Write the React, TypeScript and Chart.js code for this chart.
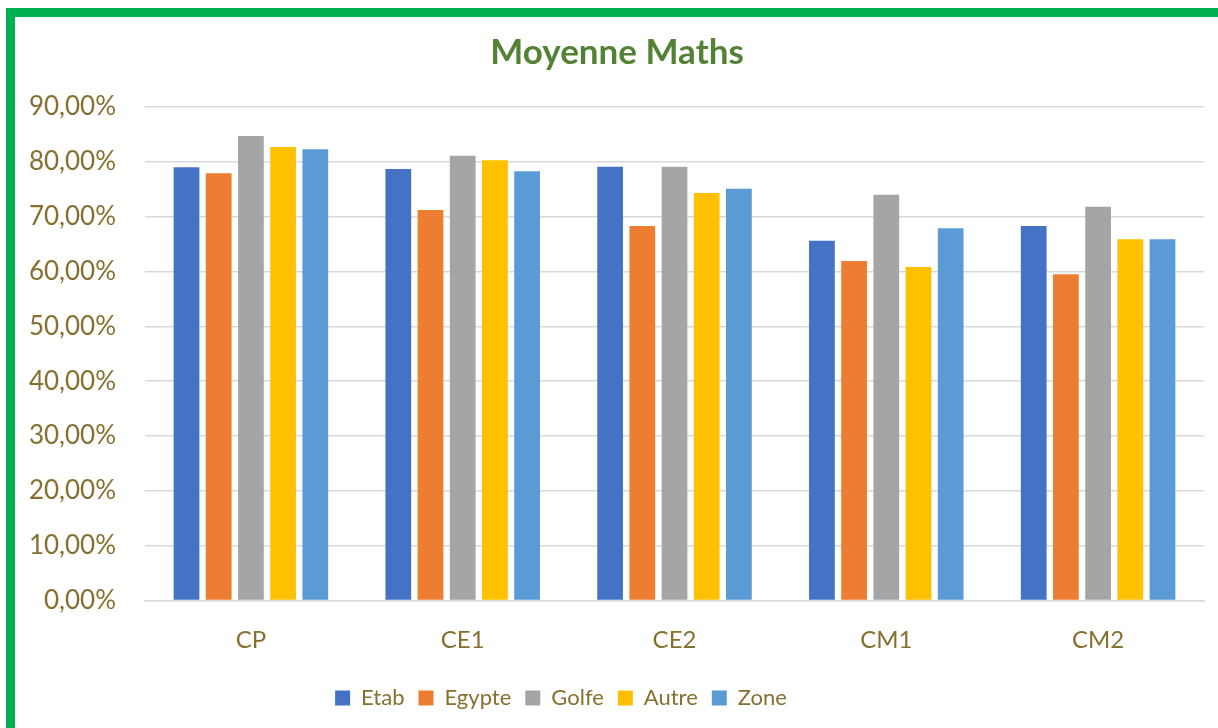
import React, { useEffect, useRef } from "react";
import { Chart, registerables } from "chart.js";

Chart.register(...registerables);

const categories = ["CP", "CE1", "CE2", "CM1", "CM2"];
const seriesNames = ["Etab", "Egypte", "Golfe", "Autre", "Zone"];
const etab = [79.0, 78.7, 79.1, 65.6, 68.3];
const egypte = [77.9, 71.2, 68.3, 61.9, 59.5];
const golfe = [84.7, 81.1, 79.1, 74.0, 71.8];
const autre = [82.7, 80.3, 74.3, 60.8, 65.9];
const zone = [82.3, 78.3, 75.1, 67.9, 65.9];
const seriesColors = ["#4472C4", "#ED7D31", "#A5A5A5", "#FFC000", "#5B9BD5"];
const yTicks = [0, 10, 20, 30, 40, 50, 60, 70, 80, 90];

const textColor = "#86702f";
const fontFamily = "Lato, 'Open Sans', sans-serif";

const TITLE_SHIFT = 15;
const LEGEND_SHIFT = -41;

const shiftPlugin = {
  id: "shiftBoxes",
  afterLayout(chart: any) {
    if (chart.titleBlock) {
      chart.titleBlock.left += TITLE_SHIFT;
      chart.titleBlock.right += TITLE_SHIFT;
    }
    if (chart.legend) {
      chart.legend.left += LEGEND_SHIFT;
      chart.legend.right += LEGEND_SHIFT;
    }
  },
};

export default function App() {
  const canvasRef = useRef<HTMLCanvasElement | null>(null);

  useEffect(() => {
    document.body.style.margin = "0";
    const canvas = canvasRef.current;
    if (!canvas) return;
    const values = [etab, egypte, golfe, autre, zone];
    const chart = new Chart(canvas, {
      type: "bar",
      data: {
        labels: categories,
        datasets: seriesNames.map((name, i) => ({
          label: name,
          data: values[i],
          backgroundColor: seriesColors[i],
          borderWidth: 0,
          categoryPercentage: 0.76,
          barPercentage: 0.8,
        })),
      },
      plugins: [shiftPlugin],
      options: {
        responsive: false,
        animation: false,
        maintainAspectRatio: false,
        layout: { padding: { left: 0, right: 14, top: 0, bottom: 9 } },
        plugins: {
          title: {
            display: true,
            text: "Moyenne Maths",
            color: "#548235",
            font: { family: fontFamily, size: 35, weight: "bold" },
            padding: { top: 32, bottom: 33 },
          },
          legend: {
            position: "bottom",
            labels: {
              color: textColor,
              font: { family: fontFamily, size: 22 },
              boxWidth: 15,
              boxHeight: 15,
              padding: 14,
            },
          },
          tooltip: { enabled: false },
        },
        scales: {
          x: {
            afterFit: (scale: any) => {
              scale.height = 72.5;
            },
            grid: { display: false, drawTicks: false },
            border: { display: true, color: "#D9D9D9", width: 1.5 },
            ticks: {
              color: textColor,
              font: { family: fontFamily, size: 24 },
              padding: 25,
            },
          },
          y: {
            min: 0,
            max: 90,
            afterBuildTicks: (scale: any) => {
              scale.ticks = yTicks.map((v) => ({ value: v }));
            },
            afterFit: (scale: any) => {
              scale.width = 145;
            },
            grid: { color: "#D9D9D9", lineWidth: 1.5, drawTicks: false },
            border: { display: false },
            ticks: {
              color: textColor,
              font: { family: fontFamily, size: 26 },
              padding: 29,
              callback: (v: any) => Number(v).toFixed(2).replace(".", ",") + "%",
            },
          },
        },
      },
    });
    return () => chart.destroy();
  }, []);

  return (
    <div style={{ position: "relative", width: 1218, height: 728, overflow: "hidden", background: "#fff" }}>
      <div
        style={{
          position: "absolute",
          left: 6,
          top: 8,
          width: 1400,
          height: 1000,
          border: "9px solid #00B050",
          boxSizing: "border-box",
        }}
      />
      <canvas
        ref={canvasRef}
        width={1218}
        height={728}
        style={{ position: "absolute", left: 0, top: 0, display: "block" }}
      />
    </div>
  );
}
